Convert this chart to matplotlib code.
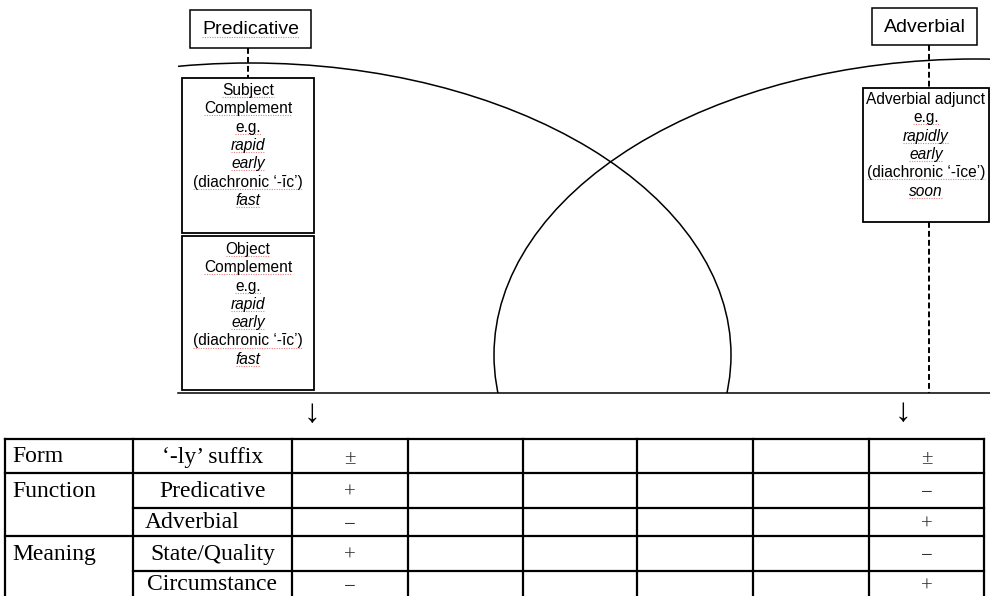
import matplotlib.pyplot as plt
from matplotlib.patches import Rectangle, Ellipse

# table content
categories = ["Form", "Function", "", "Meaning", ""]
features = ["\u2018-ly\u2019 suffix", "Predicative", "Adverbial", "State/Quality", "Circumstance"]
predicative_vals = ["\u00b1", "+", "\u2212", "+", "\u2212"]
adverbial_vals = ["\u00b1", "\u2212", "+", "\u2212", "+"]

# box contents: (text, italic, spell-check underline)
subject_lines = [("Subject", False, True), ("Complement", False, True), ("e.g.", False, True),
                 ("rapid", True, True), ("early", True, True),
                 ("(diachronic \u2018-\u012bc\u2019)", False, True), ("fast", True, True)]
object_lines = [("Object", False, True), ("Complement", False, True), ("e.g.", False, True),
                ("rapid", True, True), ("early", True, True),
                ("(diachronic \u2018-\u012bc\u2019)", False, True), ("fast", True, True)]
adjunct_lines = [("Adverbial adjunct", False, False), ("e.g.", False, True),
                 ("rapidly", True, True), ("early", True, True),
                 ("(diachronic \u2018-\u012bce\u2019)", False, True), ("soon", True, True)]

SANS = ["Liberation Sans", "DejaVu Sans"]
SERIF = ["Liberation Serif", "DejaVu Serif"]

fig = plt.figure(figsize=(9.9, 5.96), dpi=100)
ax = fig.add_axes([0, 0, 1, 1])
ax.set_xlim(0, 990)
ax.set_ylim(596, 0)
ax.axis("off")
renderer = fig.canvas.get_renderer()


def squiggle(t):
    bb = t.get_window_extent(renderer).transformed(ax.transData.inverted())
    x0, x1 = min(bb.x0, bb.x1), max(bb.x0, bb.x1)
    y = max(bb.y0, bb.y1) - 1
    ax.plot([x0, x1], [y, y], color="#e06060", lw=0.8, ls=(0, (1, 1.2)), alpha=0.8)


def box_text(lines, xc, ytop, step=18.3):
    for i, (s, it, und) in enumerate(lines):
        t = ax.text(xc, ytop + i * step, s, ha="center", va="top", fontsize=11.2,
                    family=SANS, style="italic" if it else "normal")
        if und:
            squiggle(t)


# arcs
clip = Rectangle((178, 0), 812, 393, transform=ax.transData)
for cx, h in [(250, 584), (975, 592)]:
    e = Ellipse((cx, 355), 962, h, fill=False, ec="black", lw=1.1)
    ax.add_patch(e)
    e.set_clip_path(clip)
ax.plot([178, 990], [393, 393], color="black", lw=1.1)

# label boxes
ax.add_patch(Rectangle((190, 10), 121, 38, fill=False, ec="black", lw=1.1))
t = ax.text(250.5, 29, "Predicative", ha="center", va="center", fontsize=14, family=SANS)
squiggle(t)
ax.add_patch(Rectangle((872, 8), 105, 37, fill=False, ec="black", lw=1.1))
ax.text(924.5, 27, "Adverbial", ha="center", va="center", fontsize=14, family=SANS)

# dashed connectors
dash = dict(color="black", lw=1.4, ls=(0, (3, 1.6)))
ax.plot([248, 248], [48, 78], **dash)
ax.plot([929, 929], [45, 88], **dash)
ax.plot([929, 929], [222, 393], **dash)

# content boxes
ax.add_patch(Rectangle((182, 78), 132, 155, fill=False, ec="black", lw=1.3, zorder=3))
ax.add_patch(Rectangle((182, 236), 132, 154, fill=False, ec="black", lw=1.3, zorder=3))
ax.add_patch(Rectangle((863, 88), 126, 134, fill=False, ec="black", lw=1.3, zorder=3))
ax.add_patch(Rectangle((182, 78), 132, 312, color="white", zorder=0.5))
ax.add_patch(Rectangle((863, 88), 126, 134, color="white", zorder=0.5))
box_text(subject_lines, 248, 83)
box_text(object_lines, 248, 242)
box_text(adjunct_lines, 926, 92)

# arrows
ax.text(312, 414, "\u2193", ha="center", va="center", fontsize=24, family=SERIF)
ax.text(903, 413, "\u2193", ha="center", va="center", fontsize=24, family=SERIF)

# table
cols = [5, 133, 292, 408, 523, 637, 753, 869, 984]
rows = [439, 473, 508, 536, 571, 620]
tl = dict(color="black", lw=1.6, solid_capstyle="projecting")
for x in cols:
    ax.plot([x, x], [rows[0], rows[-1]], **tl)
for i, y in enumerate(rows[:-1]):
    x0 = cols[1] if i in (2, 4) else cols[0]
    ax.plot([x0, cols[-1]], [y, y], **tl)

for i in range(len(features)):
    yc = (rows[i] + rows[i + 1]) / 2 + 1 if i < 4 else 585
    if categories[i]:
        ax.text(12, yc, categories[i], ha="left", va="center", fontsize=17, family=SERIF)
    if features[i] == "Adverbial":
        ax.text(145, yc, features[i], ha="left", va="center", fontsize=17, family=SERIF)
    else:
        ax.text((cols[1] + cols[2]) / 2, yc, features[i], ha="center", va="center",
                fontsize=17, family=SERIF)
    ax.text((cols[2] + cols[3]) / 2, yc + 2, predicative_vals[i], ha="center", va="center",
            fontsize=15, family=SERIF, color="#333333")
    ax.text((cols[7] + cols[8]) / 2, yc + 2, adverbial_vals[i], ha="center", va="center",
            fontsize=15, family=SERIF, color="#333333")

fig.savefig("out.png", dpi=100)
